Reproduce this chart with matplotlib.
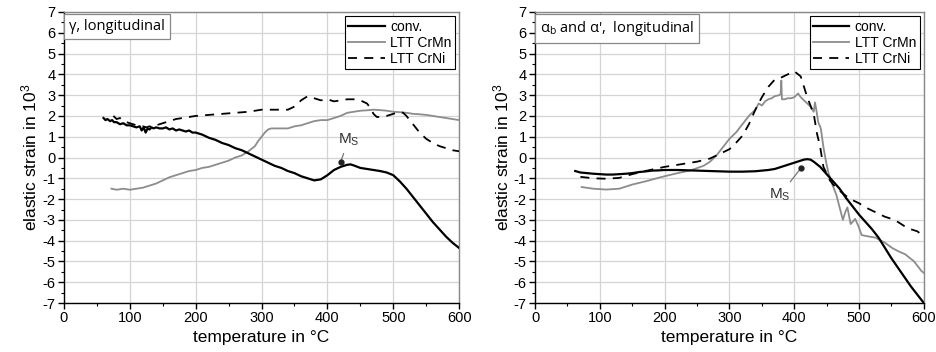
import matplotlib
matplotlib.use("Agg")
import matplotlib.pyplot as plt
from matplotlib.ticker import MultipleLocator

plt.rcParams['font.family'] = ['Liberation Sans', 'DejaVu Sans']
plt.rcParams['mathtext.fontset'] = 'custom'
plt.rcParams['mathtext.rm'] = 'Liberation Sans'
plt.rcParams['mathtext.it'] = 'Liberation Sans'
plt.rcParams['axes.unicode_minus'] = False

# ---------------- left panel: gamma, longitudinal ----------------
L_conv_x = [60,63,66,70,73,76,80,85,90,95,100,105,110,115,118,121,124,127,130,133,136,140,145,150,155,160,165,170,175,180,185,190,195,200,210,220,230,240,250,260,270,280,290,300,310,320,330,340,350,360,370,380,390,400,410,420,430,435,440,450,460,470,480,490,500,510,520,530,540,550,560,570,580,590,600]
L_conv_y = [1.9,1.8,1.85,1.75,1.8,1.7,1.7,1.6,1.65,1.55,1.55,1.5,1.45,1.5,1.3,1.45,1.2,1.4,1.35,1.45,1.4,1.45,1.4,1.4,1.45,1.35,1.4,1.3,1.35,1.3,1.25,1.3,1.2,1.2,1.1,0.95,0.85,0.7,0.6,0.45,0.35,0.2,0.05,-0.1,-0.25,-0.4,-0.5,-0.65,-0.75,-0.9,-1.0,-1.1,-1.05,-0.85,-0.6,-0.45,-0.35,-0.33,-0.38,-0.5,-0.55,-0.6,-0.65,-0.72,-0.85,-1.15,-1.5,-1.9,-2.3,-2.7,-3.1,-3.45,-3.8,-4.1,-4.35]

L_crmn_x = [72,80,90,100,110,120,130,140,150,160,170,180,190,200,210,220,230,240,250,260,270,280,290,295,300,305,310,315,320,330,340,350,360,370,380,390,400,410,420,430,440,450,460,470,480,490,500,510,520,530,540,550,560,570,580,590,600]
L_crmn_y = [-1.5,-1.55,-1.5,-1.55,-1.5,-1.45,-1.35,-1.25,-1.1,-0.95,-0.85,-0.75,-0.65,-0.6,-0.5,-0.45,-0.35,-0.25,-0.15,0.0,0.1,0.3,0.55,0.8,1.0,1.2,1.35,1.4,1.4,1.4,1.4,1.5,1.55,1.65,1.75,1.8,1.8,1.9,2.0,2.15,2.2,2.25,2.27,2.3,2.28,2.25,2.2,2.18,2.15,2.1,2.08,2.05,2.0,1.95,1.9,1.85,1.8]

L_crni_x = [75,80,85,90,95,100,105,110,115,120,125,130,135,140,145,150,155,160,170,180,190,200,220,240,260,280,300,320,340,350,360,370,380,390,400,410,420,430,440,450,460,465,470,475,480,490,500,510,515,520,530,540,550,560,570,580,590,600]
L_crni_y = [2.0,1.85,1.9,1.75,1.7,1.65,1.6,1.55,1.5,1.5,1.45,1.5,1.45,1.55,1.6,1.65,1.7,1.75,1.85,1.9,1.95,2.0,2.05,2.1,2.15,2.2,2.3,2.3,2.3,2.45,2.75,2.95,2.85,2.75,2.8,2.7,2.75,2.8,2.8,2.75,2.6,2.4,2.1,1.95,1.95,2.0,2.1,2.2,2.15,2.0,1.6,1.2,0.9,0.7,0.55,0.45,0.35,0.3]

# ---------------- right panel: alpha_b and alpha', longitudinal ----------------
R_conv_x = [62,70,80,90,100,110,120,130,140,150,160,170,180,190,200,220,240,260,280,300,320,340,360,370,380,390,400,410,415,420,425,430,440,450,460,470,480,490,500,510,520,530,540,550,560,570,580,590,600]
R_conv_y = [-0.65,-0.72,-0.75,-0.78,-0.8,-0.82,-0.82,-0.8,-0.78,-0.75,-0.7,-0.67,-0.63,-0.62,-0.6,-0.6,-0.62,-0.64,-0.66,-0.68,-0.68,-0.66,-0.6,-0.55,-0.45,-0.35,-0.25,-0.15,-0.1,-0.08,-0.1,-0.2,-0.45,-0.8,-1.15,-1.5,-1.95,-2.35,-2.75,-3.1,-3.45,-3.85,-4.35,-4.85,-5.3,-5.75,-6.2,-6.6,-7.0]

R_crmn_x = [72,90,110,130,150,170,190,200,220,240,260,270,280,290,300,310,320,330,340,345,350,355,360,365,370,377,379,380,381,385,390,395,400,406,410,415,420,425,430,432,434,437,441,445,449,453,460,465,470,475,479,482,487,494,499,504,515,525,540,551,560,571,585,596,600]
R_crmn_y = [-1.42,-1.5,-1.54,-1.5,-1.3,-1.15,-0.98,-0.9,-0.75,-0.62,-0.4,-0.2,0.1,0.5,0.9,1.2,1.6,2.0,2.3,2.6,2.5,2.7,2.8,2.85,2.95,3.0,3.05,3.7,2.8,2.8,2.85,2.85,2.9,3.08,2.9,2.75,2.6,2.45,2.2,2.65,2.3,1.7,1.4,0.5,-0.2,-0.77,-1.4,-1.8,-2.4,-3.0,-2.6,-2.4,-3.2,-2.95,-3.3,-3.73,-3.8,-3.85,-4.1,-4.35,-4.5,-4.65,-5.0,-5.45,-5.55]

R_crni_x = [70,90,110,130,150,170,200,230,250,270,280,290,300,310,320,330,340,350,360,370,380,390,400,410,420,430,435,440,445,455,460,470,480,490,500,510,520,530,540,550,560,570,580,590,600]
R_crni_y = [-0.93,-1.0,-1.02,-0.98,-0.8,-0.65,-0.45,-0.3,-0.2,-0.05,0.1,0.25,0.4,0.7,1.05,1.6,2.3,2.9,3.4,3.75,3.85,4.0,4.15,3.9,2.9,2.1,1.16,0.5,-0.45,-1.1,-1.3,-1.6,-1.85,-2.05,-2.2,-2.4,-2.55,-2.7,-2.85,-2.95,-3.1,-3.3,-3.45,-3.55,-3.8]

series_labels = ["conv.", "LTT CrMn", "LTT CrNi"]
panel_titles = ["γ, longitudinal", "α$_\\mathregular{b}$ and α',  longitudinal"]
ms_points = [(420, -0.22), (411, -0.48)]
ms_text = [(432, 0.85), (378, -1.8)]

fig = plt.figure(figsize=(9.37, 3.52), dpi=100)
ax1 = fig.add_axes([0.0683, 0.139, 0.4217, 0.827])
ax2 = fig.add_axes([0.571, 0.139, 0.415, 0.827])

data = [
    (L_conv_x, L_conv_y, L_crmn_x, L_crmn_y, L_crni_x, L_crni_y),
    (R_conv_x, R_conv_y, R_crmn_x, R_crmn_y, R_crni_x, R_crni_y),
]

for i, ax in enumerate([ax1, ax2]):
    cx, cy, mx, my, nx, ny = data[i]
    ax.plot(cx, cy, color='black', lw=1.6, label=series_labels[0], zorder=4)
    ax.plot(mx, my, color='#8c8c8c', lw=1.3, label=series_labels[1], zorder=3)
    ax.plot(nx, ny, color='black', lw=1.3, ls=(0, (5, 4)), label=series_labels[2], zorder=3)
    ax.set_xlim(0, 600)
    ax.set_ylim(-7, 7)
    ax.xaxis.set_major_locator(MultipleLocator(100))
    ax.xaxis.set_minor_locator(MultipleLocator(50))
    ax.yaxis.set_major_locator(MultipleLocator(1))
    ax.yaxis.set_minor_locator(MultipleLocator(0.5))
    ax.grid(True, which='major', color='#d4d4d4', lw=0.9)
    ax.set_axisbelow(True)
    ax.tick_params(which='major', direction='out', length=4, width=1, labelsize=10.5, pad=2)
    ax.tick_params(which='minor', direction='out', length=2.5, width=0.8)
    for s in ['left', 'bottom']:
        ax.spines[s].set_color('black')
        ax.spines[s].set_linewidth(1.0)
    for s in ['top', 'right']:
        ax.spines[s].set_color('#888888')
        ax.spines[s].set_linewidth(1.0)
    ax.set_xlabel("temperature in °C", fontsize=12.5, labelpad=3)
    ax.set_ylabel("elastic strain in 10$^\\mathregular{3}$", fontsize=12.5, labelpad=2)
    leg = ax.legend(loc='upper right', fontsize=10, frameon=True, fancybox=False,
                    edgecolor='black', framealpha=1, handlelength=2.6,
                    borderpad=0.25, labelspacing=0.15, handletextpad=0.4,
                    borderaxespad=0.3)
    leg.get_frame().set_linewidth(0.8)
    ax.text(0.012, 0.975, panel_titles[i], transform=ax.transAxes, fontsize=10.5,
            va='top', ha='left', family=['Open Sans', 'DejaVu Sans'],
            bbox=dict(boxstyle='square,pad=0.35', fc='white', ec='#888888', lw=0.9))
    px, py = ms_points[i]
    tx, ty = ms_text[i]
    ax.plot([px], [py], 'o', color='#222222', ms=3.5, zorder=5)
    ax.annotate("M$_\\mathregular{S}$", xy=(px, py), xytext=(tx, ty), fontsize=11,
                ha='center', va='center', color='#333333',
                arrowprops=dict(arrowstyle='-', color='#777777', lw=0.9,
                                shrinkA=2, shrinkB=2))

fig.savefig("out.png", dpi=100)
